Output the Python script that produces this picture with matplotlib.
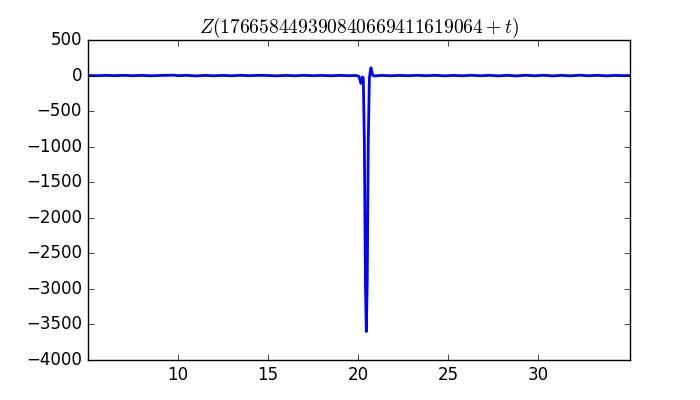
import numpy as np
import matplotlib
matplotlib.use("Agg")
from matplotlib import pyplot as plt

plt.style.use("classic")

# baseline left of the spike
t_left = [5.0, 5.5, 6.0, 6.5, 7.0, 7.5, 8.0, 8.5, 9.0, 9.5, 9.8, 10.0, 10.5, 11.0,
          11.5, 12.0, 12.5, 13.0, 13.5, 14.0, 14.5, 15.0, 15.5, 16.0, 16.5, 17.0,
          17.5, 18.0, 18.5, 19.0, 19.5, 19.9]
z_left = [1, -2, 2, -1, 3, -2, 2, -3, 1, 4, 6, -2, 3, -5, 2, -3, 2, -3, 3, -2,
          3, 1, -4, 2, -3, 3, -2, 2, -3, 2, -2, 1]

# the spike near t = 20.5
t_spike = [20.05, 20.12, 20.17, 20.21, 20.25, 20.3, 20.36, 20.42, 20.47, 20.52,
           20.58, 20.64, 20.69, 20.73, 20.77, 20.82, 20.9]
z_spike = [-10, -60, -110, -90, -20, -30, -900, -2900, -3600, -2900, -900,
           -40, 60, 110, 60, 5, -5]

# baseline right of the spike
t_right = [21.3, 21.8, 22.3, 22.8, 23.3, 23.8, 24.3, 24.8, 25.3, 25.8, 26.3, 26.8,
           27.3, 27.8, 28.3, 28.8, 29.3, 29.8, 30.3, 30.8, 31.3, 31.8, 32.3, 32.8,
           33.3, 33.8, 34.3, 34.8, 35.1]
z_right = [2, -3, 2, -2, 3, -2, 3, -4, 2, -3, 4, -3, 3, -4, 3, -5, 4, -3, 4, -5,
           3, -4, 5, -3, 3, -4, 2, -2, 1]

t = np.array(t_left + t_spike + t_right)
z = np.array(z_left + z_spike + z_right)

fig = plt.figure(figsize=(7, 4), dpi=100)
ax = fig.add_subplot(111)
ax.plot(t, z, "b-", linewidth=2)
ax.set_xlim(5.0, 35.1)
ax.set_ylim(-4000, 500)
ax.set_xticks([10, 15, 20, 25, 30])
ax.set_title(r"$Z(176658449390840669411619064+t)$", fontsize=14)
plt.subplots_adjust(left=0.125, right=0.9, bottom=0.1, top=0.9)
plt.savefig("out.png", dpi=100)
